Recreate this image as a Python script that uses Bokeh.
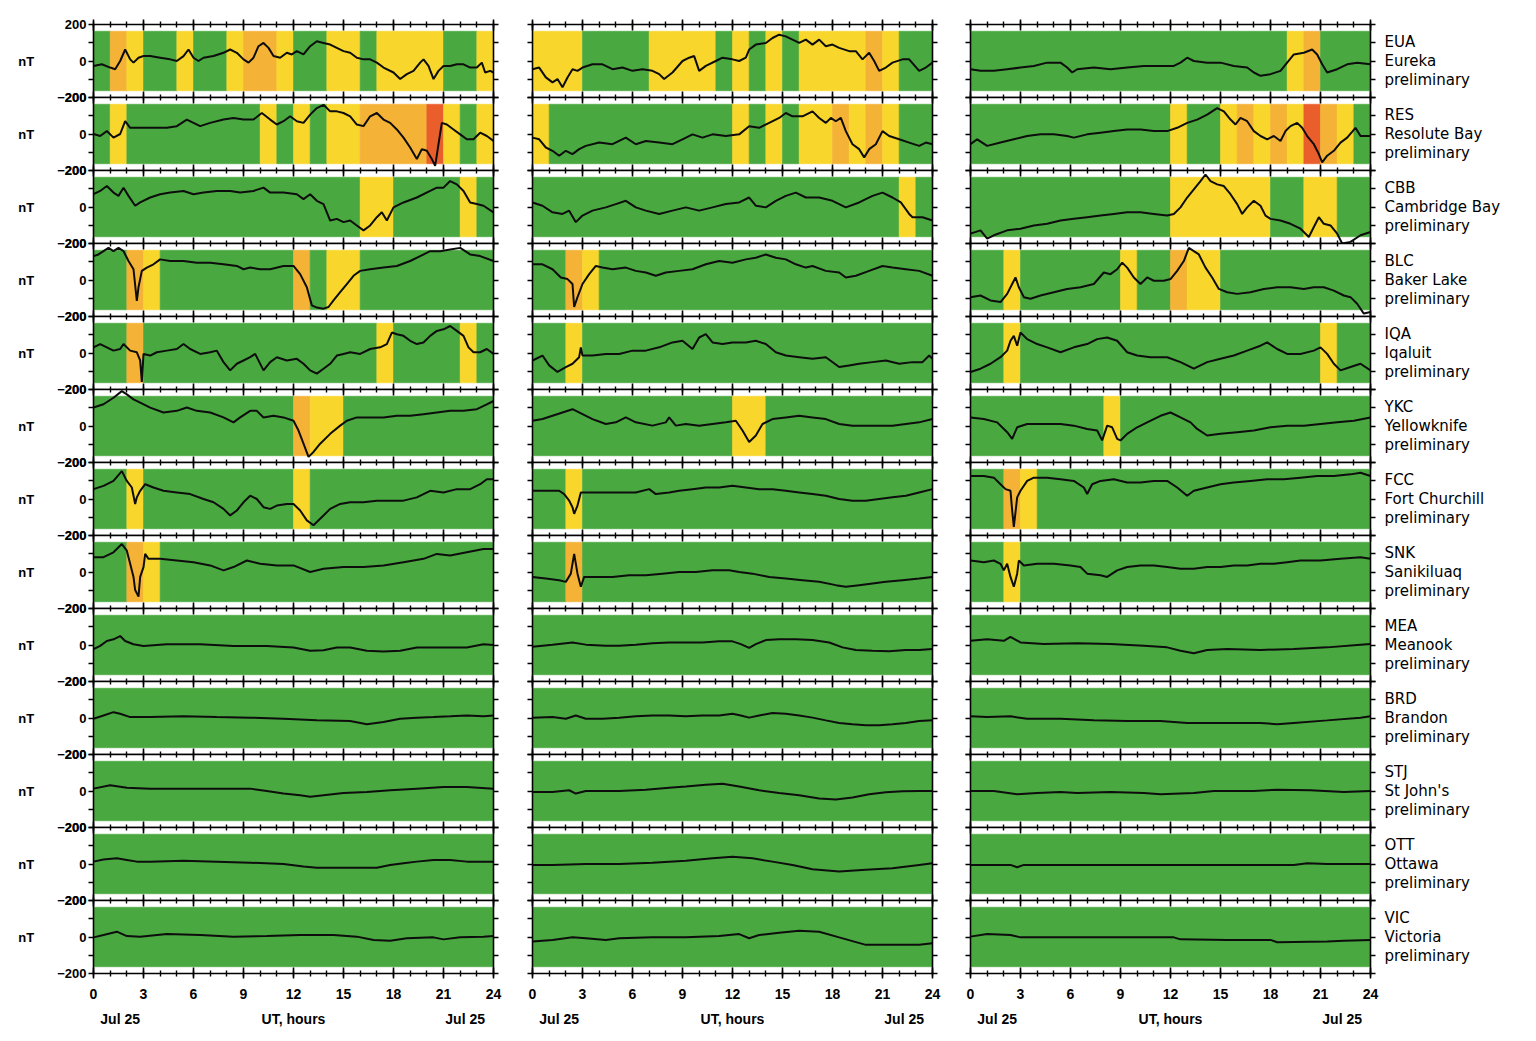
from bokeh.plotting import figure
from bokeh.layouts import row, column
from bokeh.models import Range1d, LinearAxis, FixedTicker, SingleIntervalTicker
from bokeh.embed import file_html
from bokeh.resources import INLINE

STATIONS = ["EUA", "RES", "CBB", "BLC", "IQA", "YKC", "FCC", "SNK", "MEA", "BRD", "STJ", "OTT", "VIC"]
NAMES = ["Eureka", "Resolute Bay", "Cambridge Bay", "Baker Lake", "Iqaluit", "Yellowknife",
         "Fort Churchill", "Sanikiluaq", "Meanook", "Brandon", "St John's", "Ottawa", "Victoria"]
HOUR_TICKS = [0, 3, 6, 9, 12, 15, 18, 21, 24]
Y_TICKS = [-200, -100, 0, 100, 200]
Y_LABELS = {200: "200", 100: "", 0: "0", -100: "", -200: "\u2212200"}
DATE_TICKS = [1.6, 12, 22.3]
DATE_LABELS = {1.6: "Jul 25", 12: "UT, hours", 22.3: "Jul 25"}

# hourly activity level: 0 quiet (green), 1 yellow, 2 orange, 3 red
EUA_1_lvl = [0, 2, 1, 0, 0, 1, 0, 0, 1, 2, 2, 1, 0, 0, 1, 1, 0, 1, 1, 1, 1, 0, 0, 1]
RES_1_lvl = [0, 1, 0, 0, 0, 0, 0, 0, 0, 0, 1, 0, 1, 0, 1, 1, 2, 2, 2, 2, 3, 1, 0, 1]
CBB_1_lvl = [0, 0, 0, 0, 0, 0, 0, 0, 0, 0, 0, 0, 0, 0, 0, 0, 1, 1, 0, 0, 0, 0, 1, 0]
BLC_1_lvl = [0, 0, 2, 1, 0, 0, 0, 0, 0, 0, 0, 0, 2, 0, 1, 1, 0, 0, 0, 0, 0, 0, 0, 0]
IQA_1_lvl = [0, 0, 2, 0, 0, 0, 0, 0, 0, 0, 0, 0, 0, 0, 0, 0, 0, 1, 0, 0, 0, 0, 1, 0]
YKC_1_lvl = [0, 0, 0, 0, 0, 0, 0, 0, 0, 0, 0, 0, 2, 1, 1, 0, 0, 0, 0, 0, 0, 0, 0, 0]
FCC_1_lvl = [0, 0, 1, 0, 0, 0, 0, 0, 0, 0, 0, 0, 1, 0, 0, 0, 0, 0, 0, 0, 0, 0, 0, 0]
SNK_1_lvl = [0, 0, 2, 1, 0, 0, 0, 0, 0, 0, 0, 0, 0, 0, 0, 0, 0, 0, 0, 0, 0, 0, 0, 0]
MEA_1_lvl = [0] * 24
BRD_1_lvl = [0] * 24
STJ_1_lvl = [0] * 24
OTT_1_lvl = [0] * 24
VIC_1_lvl = [0] * 24

EUA_2_lvl = [1, 1, 1, 0, 0, 0, 0, 1, 1, 1, 1, 0, 1, 0, 1, 0, 1, 1, 1, 1, 2, 1, 0, 0]
RES_2_lvl = [1, 0, 0, 0, 0, 0, 0, 0, 0, 0, 0, 0, 1, 0, 1, 0, 1, 1, 2, 1, 2, 1, 0, 0]
CBB_2_lvl = [0, 0, 0, 0, 0, 0, 0, 0, 0, 0, 0, 0, 0, 0, 0, 0, 0, 0, 0, 0, 0, 0, 1, 0]
BLC_2_lvl = [0, 0, 2, 1, 0, 0, 0, 0, 0, 0, 0, 0, 0, 0, 0, 0, 0, 0, 0, 0, 0, 0, 0, 0]
IQA_2_lvl = [0, 0, 1, 0, 0, 0, 0, 0, 0, 0, 0, 0, 0, 0, 0, 0, 0, 0, 0, 0, 0, 0, 0, 0]
YKC_2_lvl = [0, 0, 0, 0, 0, 0, 0, 0, 0, 0, 0, 0, 1, 1, 0, 0, 0, 0, 0, 0, 0, 0, 0, 0]
FCC_2_lvl = [0, 0, 1, 0, 0, 0, 0, 0, 0, 0, 0, 0, 0, 0, 0, 0, 0, 0, 0, 0, 0, 0, 0, 0]
SNK_2_lvl = [0, 0, 2, 0, 0, 0, 0, 0, 0, 0, 0, 0, 0, 0, 0, 0, 0, 0, 0, 0, 0, 0, 0, 0]
MEA_2_lvl = [0] * 24
BRD_2_lvl = [0] * 24
STJ_2_lvl = [0] * 24
OTT_2_lvl = [0] * 24
VIC_2_lvl = [0] * 24

EUA_3_lvl = [0, 0, 0, 0, 0, 0, 0, 0, 0, 0, 0, 0, 0, 0, 0, 0, 0, 0, 0, 1, 2, 0, 0, 0]
RES_3_lvl = [0, 0, 0, 0, 0, 0, 0, 0, 0, 0, 0, 0, 1, 0, 0, 1, 2, 1, 2, 1, 3, 2, 1, 0]
CBB_3_lvl = [0, 0, 0, 0, 0, 0, 0, 0, 0, 0, 0, 0, 1, 1, 1, 1, 1, 1, 0, 0, 1, 1, 0, 0]
BLC_3_lvl = [0, 0, 1, 0, 0, 0, 0, 0, 0, 1, 0, 0, 2, 1, 1, 0, 0, 0, 0, 0, 0, 0, 0, 0]
IQA_3_lvl = [0, 0, 1, 0, 0, 0, 0, 0, 0, 0, 0, 0, 0, 0, 0, 0, 0, 0, 0, 0, 0, 1, 0, 0]
YKC_3_lvl = [0, 0, 0, 0, 0, 0, 0, 0, 1, 0, 0, 0, 0, 0, 0, 0, 0, 0, 0, 0, 0, 0, 0, 0]
FCC_3_lvl = [0, 0, 2, 1, 0, 0, 0, 0, 0, 0, 0, 0, 0, 0, 0, 0, 0, 0, 0, 0, 0, 0, 0, 0]
SNK_3_lvl = [0, 0, 1, 0, 0, 0, 0, 0, 0, 0, 0, 0, 0, 0, 0, 0, 0, 0, 0, 0, 0, 0, 0, 0]
MEA_3_lvl = [0] * 24
BRD_3_lvl = [0] * 24
STJ_3_lvl = [0] * 24
OTT_3_lvl = [0] * 24
VIC_3_lvl = [0] * 24

# ---- traces, column 1 (UT hours, nT) ----
EUA_1_t = [0, 0.5, 1, 1.3, 1.6, 1.9, 2.2, 2.4, 2.7, 3, 3.4, 4, 4.6, 5, 5.4, 5.7, 6, 6.3, 6.6, 7.2,
           7.8, 8.2, 8.6, 9, 9.3, 9.6, 9.9, 10.2, 10.5, 10.8, 11.2, 11.6, 11.9, 12.2, 12.6, 13, 13.4, 13.8, 14.2, 14.6,
           15, 15.4, 15.8, 16.2, 16.6, 17, 17.4, 18, 18.4, 18.8, 19.2, 19.6, 19.8, 20.1, 20.4, 20.7, 21, 21.4, 21.8, 22.2,
           22.6, 23, 23.3, 23.5, 23.8, 24]
EUA_1_v = [-27, -18, -36, -45, 0, 63, 9, -9, 18, 27, 27, 18, 9, 0, 27, 63, 18, 0, 18, 27,
           45, 63, 45, 9, -9, 18, 81, 99, 72, 27, 18, 45, 36, 54, 36, 81, 108, 99, 90, 72,
           54, 45, 18, 9, 9, -9, -36, -63, -99, -72, -54, -9, 9, -27, -99, -54, -27, -27, -18, -18,
           -36, -36, -9, -63, -54, -63]
RES_1_t = [0, 0.4, 0.8, 1.2, 1.6, 1.9, 2.2, 2.8, 3.4, 4.4, 5, 5.6, 6, 6.4, 7, 7.8, 8.4, 9, 9.6, 10.1,
           10.6, 11, 11.4, 11.8, 12.2, 12.6, 13, 13.4, 13.8, 14.2, 14.6, 15, 15.4, 15.8, 16.2, 16.6, 17, 17.4, 17.8, 18.2,
           18.6, 19, 19.4, 19.7, 20, 20.3, 20.5, 20.7, 20.9, 21.2, 21.6, 22, 22.4, 22.8, 23.2, 23.6, 24]
RES_1_v = [0, -11, 16, -20, 0, 70, 34, 34, 34, 34, 43, 79, 61, 43, 61, 79, 88, 79, 79, 115,
           79, 52, 70, 97, 70, 61, 106, 142, 160, 124, 124, 115, 97, 52, 43, 97, 115, 79, 61, 25,
           -20, -74, -137, -83, -92, -137, -175, -56, 61, 52, 25, -2, -29, -29, 7, -11, -38]
CBB_1_t = [0, 0.4, 0.8, 1.2, 1.5, 1.8, 2.1, 2.5, 2.8, 3.4, 4, 4.6, 5.4, 6, 6.6, 7.4, 8.2, 8.8, 9.6, 10.2,
           10.6, 11.4, 12.2, 12.6, 13, 13.4, 13.8, 14.2, 14.6, 15, 15.4, 15.8, 16.2, 16.6, 17, 17.3, 17.6, 18, 18.6, 19.4,
           20.2, 20.6, 21, 21.4, 21.8, 22.2, 22.6, 23, 23.4, 24]
CBB_1_v = [70, 88, 115, 79, 61, 106, 61, 7, 25, 52, 70, 79, 88, 70, 79, 88, 88, 79, 88, 106,
           79, 79, 70, 43, 70, 34, 16, -74, -65, -83, -74, -101, -128, -101, -56, -29, -74, -2, 25, 52,
           88, 106, 106, 142, 124, 88, 25, 16, 7, -29]
BLC_1_t = [0, 0.3, 0.6, 0.9, 1.2, 1.5, 1.8, 2.1, 2.4, 2.6, 2.7, 2.9, 3.2, 3.6, 4, 4.6, 5.4, 6.2, 7, 7.8,
           8.6, 9, 9.4, 10, 10.6, 11.4, 12, 12.4, 12.8, 13.1, 13.4, 13.8, 14.1, 14.4, 14.8, 15.2, 15.6, 16, 16.6, 17.4,
           18.2, 19, 19.6, 20.2, 20.8, 21.4, 22, 22.6, 23.2, 24]
BLC_1_v = [131, 140, 158, 176, 158, 176, 158, 104, 59, -115, -40, 50, 68, 86, 113, 104, 104, 95, 95, 86,
           77, 59, 68, 59, 59, 77, 77, 32, -40, -139, -151, -157, -148, -112, -67, -22, 23, 50, 59, 68,
           77, 104, 131, 158, 158, 167, 176, 140, 131, 104]
IQA_1_t = [0, 0.4, 0.8, 1.2, 1.6, 1.8, 2.2, 2.6, 2.8, 2.9, 3, 3.4, 3.8, 4.4, 5, 5.4, 5.8, 6.4, 7, 7.4,
           7.8, 8.2, 8.6, 9, 9.4, 9.7, 10.2, 10.6, 11, 11.6, 12.2, 12.6, 13, 13.4, 13.8, 14.2, 14.6, 15, 15.4, 16,
           16.6, 17.2, 17.6, 17.9, 18.2, 18.6, 19, 19.4, 19.8, 20.2, 20.6, 21, 21.4, 21.8, 22.2, 22.5, 22.8, 23.2, 23.6, 24]
IQA_1_v = [31, 49, 31, 13, 22, 49, 13, 4, -41, -158, -5, -14, 4, 13, 22, 49, 22, -5, 4, 13,
           -50, -95, -59, -41, -23, -5, -95, -50, -23, -41, -32, -59, -95, -113, -86, -59, -14, -5, 4, -5,
           22, 31, 49, 112, 103, 94, 67, 49, 58, 94, 121, 130, 148, 121, 94, 31, 4, 4, 22, -5]
YKC_1_t = [0, 0.6, 1.2, 1.7, 2, 2.4, 2.8, 3.4, 4.2, 5, 5.6, 6.2, 7, 7.8, 8.4, 8.8, 9.4, 9.8, 10.2, 10.8,
           11.4, 12, 12.3, 12.6, 12.9, 13.2, 13.6, 14.2, 14.8, 15.2, 15.8, 16.6, 17.4, 18.2, 19, 19.8, 20.6, 21.4, 22.2, 23,
           23.6, 24]
YKC_1_v = [101, 119, 155, 191, 173, 146, 128, 101, 74, 83, 101, 83, 74, 47, 20, 47, 83, 83, 47, 56,
           47, 29, -25, -97, -169, -142, -97, -43, 2, 29, 47, 47, 47, 56, 56, 65, 74, 83, 83, 92,
           119, 137]
FCC_1_t = [0, 0.6, 1.2, 1.7, 2, 2.3, 2.5, 2.6, 2.8, 3.1, 3.6, 4.2, 5, 5.8, 6.6, 7.2, 7.8, 8.2, 8.6, 9,
           9.4, 9.8, 10.2, 10.6, 11, 11.6, 12, 12.4, 12.8, 13.2, 13.6, 14.2, 14.8, 15.4, 16.2, 17, 17.8, 18.6, 19.4, 20.2,
           21, 21.8, 22.6, 23.2, 23.6, 24]
FCC_1_v = [54, 72, 99, 153, 99, 63, -27, 9, 45, 81, 63, 45, 36, 27, 0, -18, -54, -90, -63, -18,
           18, 0, -45, -54, -36, -27, -27, -63, -117, -144, -108, -54, -27, -18, -18, -9, -9, -9, 9, 45,
           36, 54, 54, 81, 108, 108]
SNK_1_t = [0, 0.6, 1.2, 1.7, 2, 2.2, 2.4, 2.5, 2.7, 2.8, 3, 3.1, 3.3, 4, 5, 6, 7, 7.8, 8.4, 9.2,
           10, 11, 12, 13, 13.8, 15, 16.2, 17.4, 18.6, 19.8, 20.6, 21.4, 22.4, 23.4, 24]
SNK_1_v = [81, 81, 108, 153, 117, 45, -27, -99, -135, -27, 27, 99, 72, 72, 63, 54, 36, 9, 27, 63,
           45, 36, 36, 0, 18, 27, 27, 36, 54, 72, 99, 90, 108, 126, 126]
MEA_1_t = [0, 0.4, 0.8, 1.2, 1.6, 1.9, 2.4, 3, 4.4, 6.4, 8.4, 10.4, 12, 13, 13.8, 14.6, 15.4, 16.4, 17.4, 18.4,
           19.4, 20.4, 21.4, 22.4, 23.4, 24]
MEA_1_v = [-23, -5, 22, 31, 49, 22, 4, -5, 4, 4, -5, -5, -14, -32, -29, -14, -14, -32, -36, -32,
           -14, -14, -14, -14, 4, 0]
BRD_1_t = [0, 0.6, 1.2, 1.6, 2.2, 3.4, 5.4, 7.4, 9.4, 11.4, 13.4, 15.4, 16.4, 17.4, 18.4, 19.4, 20.4, 21.4, 22.4, 23.4, 24]
BRD_1_v = [-4, 14, 32, 23, 5, 5, 9, 5, 2, -4, -13, -16, -34, -22, -4, 2, 5, 9, 14, 9, 14]
STJ_1_t = [0, 1, 2, 3.4, 5.4, 7.4, 9.4, 10.4, 11.4, 12.4, 13, 13.8, 15, 16.4, 17.8, 19.4, 21, 22.4, 24]
STJ_1_v = [13, 31, 18, 13, 13, 13, 13, 0, -14, -23, -32, -23, -11, -5, 4, 13, 22, 22, 13]
OTT_1_t = [0, 0.6, 1.4, 2, 2.6, 3.4, 5.4, 7.4, 9.4, 11.4, 12.6, 13.4, 15.4, 17, 17.8, 18.6, 19.4, 20.4, 21.4, 22.4, 24]
OTT_1_v = [13, 25, 31, 22, 13, 13, 18, 13, 7, 0, -14, -20, -20, -20, -5, 4, 13, 22, 22, 13, 13]
VIC_1_t = [0, 0.6, 1.4, 2, 2.8, 4.4, 6.4, 8.4, 10.4, 12.4, 14.4, 15.8, 16.8, 17.8, 18.8, 20.4, 21, 22, 23.4, 24]
VIC_1_v = [-2, 11, 29, 5, 2, 16, 11, 2, 5, 11, 11, 2, -16, -20, -7, -2, -13, -2, 2, 5]

# ---- traces, column 2 ----
EUA_2_t = [0, 0.4, 0.8, 1.2, 1.5, 1.8, 2.1, 2.4, 2.7, 3, 3.6, 4.2, 4.8, 5.4, 6, 6.6, 7.2, 7.6, 7.9, 8.4,
           9, 9.4, 9.7, 10, 10.4, 11, 11.4, 12, 12.4, 12.8, 13, 13.4, 14, 14.4, 14.8, 15.2, 15.6, 16, 16.4, 16.8,
           17.2, 17.6, 18, 18.4, 19, 19.4, 19.8, 20.2, 20.5, 20.8, 21.2, 21.6, 22.2, 22.6, 23.2, 23.6, 24]
EUA_2_v = [-45, -36, -90, -117, -99, -144, -90, -45, -54, -36, -18, -18, -45, -36, -54, -45, -54, -72, -99, -63,
           0, 18, 27, -54, -27, 0, 18, 9, 0, 18, 63, 90, 99, 126, 144, 135, 117, 99, 117, 90,
           117, 81, 90, 72, 54, 54, 9, 45, 0, -54, -36, -9, 9, 9, -54, -36, -9]
RES_2_t = [0, 0.4, 0.8, 1.2, 1.6, 2, 2.4, 2.8, 3.2, 4, 4.8, 5.6, 6.2, 6.8, 7.6, 8.4, 9, 9.6, 10.2, 10.8,
           11.6, 12.4, 13, 13.6, 14.2, 14.8, 15.2, 15.6, 16.2, 16.8, 17.2, 17.6, 17.9, 18.2, 18.5, 18.8, 19.2, 19.6, 19.9, 20.2,
           20.6, 21, 21.4, 22, 22.6, 23.2, 23.6, 24]
RES_2_v = [-20, -29, -74, -92, -119, -92, -110, -83, -65, -47, -56, -20, -56, -38, -47, -56, -29, -2, -20, -2,
           -11, -2, 43, 34, 61, 88, 115, 97, 97, 124, 88, 61, 88, 70, 88, 16, -56, -83, -128, -83,
           -56, 16, -11, -29, -47, -65, -47, -56]
CBB_2_t = [0, 0.6, 1.2, 1.8, 2.2, 2.6, 3, 3.6, 4.4, 5, 5.6, 6.2, 6.8, 7.6, 8.4, 9.2, 10, 10.8, 11.6, 12.4,
           13, 13.4, 14, 14.6, 15.2, 15.8, 16.4, 17.2, 18, 18.8, 19.6, 20.4, 21, 21.6, 22.1, 22.6, 22.8, 23.4, 24]
CBB_2_v = [25, 7, -29, -38, -20, -83, -47, -20, -2, 16, 34, -2, -20, -38, -20, -2, -20, -2, 16, 25,
           52, 7, -2, 34, 61, 79, 52, 52, 34, -2, 25, 61, 79, 52, 25, -38, -56, -56, -74]
BLC_2_t = [0, 0.6, 1.2, 1.7, 2.1, 2.4, 2.5, 2.7, 3, 3.4, 3.8, 4.2, 4.8, 5.6, 6.2, 6.8, 7.4, 8, 8.8, 9.6,
           10.4, 11.2, 12, 12.8, 13.4, 14, 14.6, 15.2, 15.8, 16.4, 16.8, 17.6, 18.4, 18.8, 19.4, 20.2, 21, 21.6, 22.4, 23.2,
           24]
BLC_2_v = [86, 86, 59, 14, 5, -22, -148, -94, -22, 32, 77, 68, 59, 68, 50, 41, 23, 41, 50, 59,
           86, 104, 95, 113, 122, 140, 122, 113, 86, 68, 77, 50, 41, 14, 23, 50, 77, 68, 59, 50,
           23]
IQA_2_t = [0, 0.6, 1, 1.5, 2, 2.4, 2.8, 2.9, 3, 3.6, 4.4, 5.2, 6, 6.8, 7.6, 8.4, 9, 9.6, 10, 10.4,
           10.8, 11.4, 12, 12.8, 13.4, 14, 14.6, 15.2, 16, 16.8, 17.6, 18.4, 19, 19.6, 20.4, 21.2, 22, 22.8, 23.4, 23.8,
           24]
IQA_2_v = [-41, -14, -68, -104, -77, -59, -23, 31, -14, -14, -5, -5, 13, 13, 31, 58, 67, 22, 85, 103,
           58, 49, 58, 58, 67, 49, 4, -14, -23, -32, -23, -77, -68, -59, -50, -41, -59, -50, -50, -14,
           -32]
YKC_2_t = [0, 0.6, 1.2, 1.8, 2.4, 3, 3.6, 4.4, 5, 5.6, 6.2, 7.2, 8, 8.2, 8.6, 9.2, 10, 10.8, 11.6, 12.2,
           12.6, 13, 13.4, 13.8, 14.4, 15.2, 16, 16.8, 17.6, 18.4, 19.2, 20, 20.8, 21.6, 22.4, 23.2, 24]
YKC_2_v = [29, 38, 56, 74, 92, 65, 38, 11, 20, 47, 20, 2, 20, 47, 2, 11, 2, 11, 20, 29,
           -25, -88, -52, 11, 38, 47, 56, 47, 38, 11, 2, 2, 2, 2, 11, 20, 38]
FCC_2_t = [0, 0.8, 1.6, 1.9, 2.2, 2.4, 2.5, 2.7, 2.9, 3.2, 4.2, 5.2, 6.2, 7, 7.4, 8.2, 8.8, 9.6, 10.4, 11.2,
           12, 12.8, 13.6, 14.4, 15.2, 16, 16.8, 17.6, 18.4, 19.2, 20, 20.8, 21.6, 22.4, 23.2, 24]
FCC_2_v = [45, 45, 45, 27, -9, -45, -81, -36, 36, 36, 36, 36, 36, 54, 27, 36, 45, 54, 63, 63,
           72, 63, 54, 54, 45, 36, 27, 18, 0, -9, -9, 0, 9, 18, 36, 54]
SNK_2_t = [0, 0.8, 1.6, 2, 2.3, 2.5, 2.7, 2.9, 3.1, 3.8, 4.8, 5.8, 6.8, 7.8, 8.8, 9.8, 10.8, 11.8, 12.4, 13.2,
           14.2, 15.2, 16.2, 17.2, 18.2, 18.8, 19.6, 20.4, 21.2, 22.2, 23.2, 24]
SNK_2_v = [-27, -36, -45, -54, -9, 99, -9, -81, -27, -27, -27, -18, -18, -9, 0, 0, 9, 9, 0, -9,
           -27, -36, -45, -54, -72, -81, -72, -63, -54, -45, -36, -27]
MEA_2_t = [0, 1.2, 2.4, 3.2, 4.4, 5.2, 6.2, 7.2, 8.2, 9.2, 10.2, 11.2, 12, 12.5, 13, 13.4, 14, 14.8, 15.8, 16.8,
           17.8, 18.6, 19.4, 20.4, 21.4, 22.4, 23.2, 24]
MEA_2_v = [-9, 2, 14, 2, -4, -4, 2, 9, 14, 14, 14, 20, 20, 5, -16, 5, 27, 32, 32, 27,
           14, -13, -27, -31, -34, -27, -27, -22]
BRD_2_t = [0, 1.2, 2, 2.6, 3.2, 4.2, 5.2, 6.2, 7.2, 8.2, 9.2, 10.2, 11.2, 12, 12.5, 13, 13.6, 14.4, 15.2, 16,
           16.8, 17.6, 18.4, 19.2, 20, 20.8, 21.6, 22.4, 23.2, 24]
BRD_2_v = [2, 5, -4, 14, -4, -4, 2, 9, 14, 14, 9, 14, 14, 23, 14, 2, 14, 27, 23, 14,
           2, -13, -27, -34, -40, -40, -34, -27, -16, -13]
STJ_2_t = [0, 1.2, 2.2, 2.6, 3.2, 5.2, 6.8, 8.2, 9.2, 10.4, 11.4, 12.4, 13.6, 14.8, 16, 17.2, 18.2, 19.2, 20.2, 21.2,
           22.2, 23.2, 24]
STJ_2_v = [-5, -5, 4, -14, 0, 0, 7, 18, 25, 34, 40, 25, 4, -11, -23, -41, -47, -36, -18, -7,
           -2, 0, 0]
OTT_2_t = [0, 1.2, 3.2, 5.2, 7.2, 9.2, 10.8, 12, 13.2, 14.4, 15.6, 16.8, 18.4, 20, 21.6, 23.2, 24]
OTT_2_v = [-5, -5, 0, 0, 7, 18, 31, 40, 31, 13, -5, -29, -41, -32, -23, -5, 4]
VIC_2_t = [0, 1.2, 2.4, 3.2, 4.4, 5.2, 7.2, 9.2, 11.2, 12.4, 13, 13.6, 14.8, 16, 17.2, 18.4, 20, 21.6, 23.2, 24]
VIC_2_v = [-25, -16, -2, -7, -16, -7, -2, -2, 5, 16, -7, 11, 23, 34, 29, -2, -43, -43, -43, -34]

# ---- traces, column 3 ----
EUA_3_t = [0, 0.6, 1.4, 2.2, 3, 3.8, 4.6, 5.4, 5.8, 6.1, 6.4, 7.4, 8.4, 9.4, 10.4, 11.4, 12.2, 12.6, 13, 13.4,
           14.2, 15, 15.8, 16.6, 17, 17.4, 18, 18.6, 19, 19.4, 20, 20.5, 20.8, 21.1, 21.4, 22, 22.6, 23.2, 24]
EUA_3_v = [-45, -54, -54, -45, -36, -27, -9, -9, -36, -63, -45, -36, -45, -36, -27, -27, -27, -9, 18, 0,
           -9, -9, -27, -36, -63, -81, -72, -54, -9, 36, 45, 63, 36, -18, -63, -45, -18, -9, -18]
RES_3_t = [0, 0.4, 1, 1.8, 2.6, 3.4, 4.2, 5, 5.8, 6.2, 7, 7.8, 8.6, 9.4, 10.2, 11, 11.8, 12.4, 13, 13.6,
           14.2, 14.8, 15.2, 15.6, 15.9, 16.2, 16.6, 17, 17.4, 17.8, 18.2, 18.6, 18.9, 19.2, 19.6, 19.9, 20.2, 20.6, 20.9, 21.1,
           21.4, 21.8, 22.2, 22.6, 23.1, 23.4, 24]
RES_3_v = [-56, -29, -65, -47, -29, -11, -2, -2, -11, -20, -2, 7, 16, 25, 25, 16, 16, 34, 61, 79,
           106, 142, 124, 79, 52, 88, 70, 16, -11, -29, -11, -38, 16, 43, 61, 34, -11, -56, -110, -155,
           -119, -92, -47, -20, 34, -11, -11]
CBB_3_t = [0, 0.6, 1, 1.4, 2.2, 3, 3.8, 4.6, 5.4, 6.2, 7, 7.8, 8.6, 9.4, 10.2, 11, 11.8, 12.2, 12.6, 13,
           13.4, 13.8, 14.1, 14.4, 14.8, 15.2, 15.6, 16, 16.3, 16.6, 17, 17.4, 17.7, 18, 18.6, 19.2, 19.8, 20.3, 20.6, 20.9,
           21.2, 21.6, 22, 22.3, 22.8, 23.4, 24]
CBB_3_v = [-146, -128, -173, -155, -128, -119, -101, -92, -74, -65, -56, -47, -38, -29, -29, -38, -47, -38, -2, 52,
           97, 142, 178, 142, 124, 115, 70, 16, -38, -2, 34, 7, -47, -65, -74, -92, -119, -164, -110, -56,
           -92, -101, -146, -200, -191, -155, -137]
BLC_3_t = [0, 0.6, 1.2, 1.8, 2.2, 2.5, 2.7, 2.9, 3.2, 3.6, 4.2, 5, 5.8, 6.6, 7.4, 8, 8.4, 8.8, 9.1, 9.4,
           9.8, 10.2, 10.6, 11, 11.6, 12, 12.4, 12.8, 13.1, 13.4, 13.7, 14.1, 14.5, 14.9, 15.4, 16, 16.8, 17.6, 18.4, 19.2,
           20, 20.6, 21.2, 21.8, 22.4, 22.8, 23.2, 23.6, 24]
BLC_3_v = [-94, -85, -112, -121, -76, -22, 14, -40, -94, -103, -85, -67, -49, -40, -22, 41, 32, 59, 95, 68,
           14, -22, 14, -4, -4, 5, 50, 104, 176, 158, 140, 68, 14, -49, -67, -76, -67, -49, -40, -40,
           -49, -40, -40, -58, -85, -94, -130, -184, -175]
IQA_3_t = [0, 0.6, 1.2, 1.8, 2.2, 2.4, 2.6, 2.8, 3, 3.4, 4, 4.6, 5.4, 6.2, 7, 7.6, 8.2, 8.8, 9.4, 10,
           10.8, 11.8, 12.6, 13.4, 14.2, 15, 15.8, 16.6, 17.4, 17.8, 18.4, 19, 19.8, 20.6, 21, 21.4, 21.8, 22.2, 22.8, 23.4,
           24]
IQA_3_v = [-104, -86, -59, -23, 13, 67, 94, 40, 112, 76, 49, 31, 4, 31, 49, 76, 85, 67, 4, -14,
           -23, -23, -50, -86, -50, -32, -14, 13, 40, 58, 22, -5, -5, 13, 31, -5, -59, -95, -77, -59,
           -95]
YKC_3_t = [0, 0.8, 1.6, 2.2, 2.5, 2.8, 3.4, 4.4, 5.4, 6.2, 7, 7.6, 7.9, 8.2, 8.5, 8.8, 9, 9.4, 10, 10.6,
           11.4, 12, 12.6, 13.2, 13.6, 14.2, 15, 16, 17, 18, 19, 20, 21, 22, 23, 24]
YKC_3_v = [47, 38, 20, -34, -70, -7, 11, 11, 11, 2, -16, -25, -79, 2, -7, -70, -79, -43, -7, 20,
           56, 74, 47, 20, -16, -52, -43, -34, -25, -7, 2, 2, 11, 20, 29, 47]
FCC_3_t = [0, 0.8, 1.4, 1.8, 2.1, 2.4, 2.5, 2.6, 2.8, 3, 3.4, 3.8, 4.6, 5.4, 6.2, 6.8, 7, 7.3, 7.8, 8.6,
           9.4, 10.2, 11, 11.8, 12.4, 13, 13.4, 14.2, 15, 15.8, 16.8, 17.8, 18.8, 19.8, 20.8, 21.8, 22.8, 23.4, 24]
FCC_3_v = [126, 126, 117, 81, 54, 45, -63, -153, 9, 45, 99, 117, 117, 108, 99, 63, 27, 81, 99, 108,
           90, 90, 99, 99, 63, 18, 45, 63, 81, 90, 99, 108, 108, 117, 126, 126, 135, 144, 126]
SNK_3_t = [0, 0.8, 1.4, 1.8, 2, 2.2, 2.4, 2.6, 2.8, 2.9, 3.2, 4, 5, 6, 6.6, 7, 7.8, 8.2, 8.8, 9.4,
           10.2, 11, 11.8, 12.6, 13.4, 14.2, 15, 15.8, 16.6, 17.4, 18.2, 19, 19.8, 21, 22.2, 23.4, 24]
SNK_3_v = [63, 54, 63, 45, 9, 45, -27, -81, -9, 63, 36, 45, 45, 36, 27, -9, -18, -27, 9, 27,
           36, 36, 27, 18, 18, 27, 27, 36, 36, 45, 45, 54, 63, 63, 72, 81, 72]
MEA_3_t = [0, 1, 2, 2.4, 3, 4.4, 6.4, 8.4, 10.4, 11.8, 12.6, 13.4, 14.2, 15.4, 17.4, 19.4, 21.4, 23.4, 24]
MEA_3_v = [23, 32, 23, 45, 14, 5, 9, 5, -4, -13, -31, -45, -27, -22, -27, -22, -13, 2, 5]
BRD_3_t = [0, 1, 2.4, 3.4, 5.4, 7.4, 9.4, 11.4, 13, 15.4, 17.4, 18.4, 19.4, 21.4, 23.4, 24]
BRD_3_v = [9, 5, 9, -4, -4, -13, -16, -16, -27, -27, -27, -34, -27, -13, 2, 9]
STJ_3_t = [0, 1.4, 2.8, 4, 5.4, 6.4, 8.4, 10.4, 11.4, 13.4, 14.6, 17, 18.4, 20.4, 22.4, 24]
STJ_3_v = [0, 0, -18, -11, -5, -11, -5, -11, -18, -11, 0, 0, 7, 4, -5, 0]
OTT_3_t = [0, 2.4, 2.8, 3.2, 7.4, 11.4, 15.4, 19.4, 20.2, 21.4, 24]
OTT_3_v = [-5, -5, -18, -5, -5, -5, -5, -5, 4, 0, 0]
VIC_3_t = [0, 1, 2.4, 3, 5.4, 9.4, 12.2, 12.6, 15.4, 18, 18.4, 21.4, 22.4, 24]
VIC_3_v = [2, 16, 11, -2, -2, -2, -2, -13, -16, -16, -29, -25, -20, -16]

# ---- styling ----
LEVEL_COLORS = ["#49a83f", "#f9d62b", "#f4b236", "#ea5e2c"]
FONT = "Liberation Sans"
LABEL_FONT = "DejaVu Sans"
FW, FH = 400, 73
LEFT = [93, 20, 19]
RIGHT = [19, 19, 150]
TOP0 = 24
BAND = 163
OVERLAP = 8


def runs(levels):
    out = []
    start = 0
    for h in range(1, 25):
        if h == 24 or levels[h] != levels[start]:
            out.append((start, h, levels[start]))
            start = h
    return out


def line_style(ax):
    ax.axis_line_color = "black"
    ax.axis_line_width = 1.6
    ax.major_tick_line_color = "black"
    ax.major_tick_line_width = 1.6
    ax.minor_tick_line_color = "black"
    ax.minor_tick_line_width = 1.4
    ax.major_label_text_color = "black"
    ax.axis_label_text_color = "black"


def no_labels(ax, ticks):
    ax.major_label_overrides = {t: "" for t in ticks}
    ax.major_label_text_font_size = "0px"
    ax.major_label_standoff = 0


def hour_axis(tick_out):
    ax = LinearAxis(ticker=SingleIntervalTicker(interval=3, num_minor_ticks=3),
                    major_tick_in=6, major_tick_out=tick_out,
                    minor_tick_in=3, minor_tick_out=(3 if tick_out else 0))
    line_style(ax)
    return ax


def make_panel(ci, ri):
    code = STATIONS[ri]
    g = globals()
    t = g[f"{code}_{ci + 1}_t"]
    v = g[f"{code}_{ci + 1}_v"]
    lvl = g[f"{code}_{ci + 1}_lvl"]
    last = ri == len(STATIONS) - 1
    top = TOP0 if ri == 0 else OVERLAP
    bottom = 64 if last else OVERLAP
    left, right = LEFT[ci], RIGHT[ci]
    p = figure(width=left + FW + right, height=top + FH + bottom,
               x_range=Range1d(0, 24), y_range=Range1d(-200, 200),
               x_axis_location=None, y_axis_location=None,
               min_border_left=left, min_border_right=right,
               min_border_top=top, min_border_bottom=bottom,
               toolbar_location=None, tools="", output_backend="svg")
    p.border_fill_color = None
    p.background_fill_color = "white"
    p.outline_line_color = None
    p.grid.visible = False
    if ri > 0:
        p.margin = (-2 * OVERLAP, 0, 0, 0)

    segs = runs(lvl)
    cols = [LEVEL_COLORS[s[2]] for s in segs]
    p.quad(left=[s[0] for s in segs], right=[s[1] for s in segs], bottom=-BAND, top=BAND,
           fill_color=cols, line_color=cols, line_width=0.6)
    p.line(t, v, line_color="#0d0d0d", line_width=2)

    # top axis
    ax_top = hour_axis(5 if ri == 0 else 0)
    no_labels(ax_top, HOUR_TICKS)
    p.add_layout(ax_top, "above")

    # bottom axis
    if last:
        ax_b = hour_axis(5)
        ax_b.major_label_text_font = FONT
        ax_b.major_label_text_font_size = "14px"
        ax_b.major_label_text_font_style = "bold"
        ax_b.major_label_standoff = 10
        p.add_layout(ax_b, "below")
        ax_d = LinearAxis(ticker=FixedTicker(ticks=DATE_TICKS, minor_ticks=[]),
                          major_label_overrides=DATE_LABELS,
                          axis_line_color=None, major_tick_line_color=None, minor_tick_line_color=None,
                          major_tick_out=0, major_tick_in=0, minor_tick_out=0, minor_tick_in=0,
                          major_label_standoff=9)
        ax_d.major_label_text_font = FONT
        ax_d.major_label_text_font_size = "14px"
        ax_d.major_label_text_font_style = "bold"
        ax_d.major_label_text_color = "black"
        p.add_layout(ax_d, "below")
    else:
        ax_b = hour_axis(0)
        no_labels(ax_b, HOUR_TICKS)
        p.add_layout(ax_b, "below")

    # left axis
    ax_l = LinearAxis(ticker=FixedTicker(ticks=Y_TICKS, minor_ticks=[]),
                      major_tick_in=0, major_tick_out=5)
    line_style(ax_l)
    if ci == 0:
        ax_l.major_label_overrides = Y_LABELS
        ax_l.major_label_text_font = FONT
        ax_l.major_label_text_font_size = "13px"
        ax_l.major_label_text_font_style = "bold"
        ax_l.major_label_standoff = 2
        ax_l.axis_label = "nT"
        ax_l.axis_label_orientation = "horizontal"
        ax_l.axis_label_standoff = 20
        ax_l.axis_label_text_font = FONT
        ax_l.axis_label_text_font_size = "13px"
        ax_l.axis_label_text_font_style = "bold"
    else:
        no_labels(ax_l, Y_TICKS)
    p.add_layout(ax_l, "left")

    # right axis (station names on the last column)
    ax_r = LinearAxis(ticker=FixedTicker(ticks=Y_TICKS, minor_ticks=[]),
                      major_tick_in=0, major_tick_out=5)
    line_style(ax_r)
    if ci == 2:
        ax_r.major_label_overrides = {-200: "", -100: "", 100: "", 200: "",
                                      0: f"{code}\n{NAMES[ri]}\npreliminary"}
        ax_r.major_label_text_font = LABEL_FONT
        ax_r.major_label_text_font_size = "15px"
        ax_r.major_label_text_line_height = 1.05
        ax_r.major_label_standoff = 9
    else:
        no_labels(ax_r, Y_TICKS)
    p.add_layout(ax_r, "right")
    return p


columns = []
for ci in range(3):
    figs = [make_panel(ci, ri) for ri in range(len(STATIONS))]
    columns.append(column(*figs, spacing=0))

layout = row(*columns, spacing=0)
open("out.html", "w").write(file_html(layout, INLINE, title="Magnetometer stack plot"))
